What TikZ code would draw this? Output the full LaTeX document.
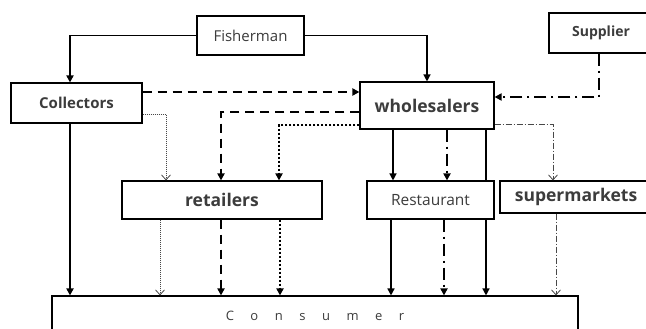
\documentclass[tikz,border=0pt]{standalone}
\usepackage{fontspec}
\setmainfont{Open Sans}
\usetikzlibrary{arrows.meta,backgrounds}
\definecolor{txtgray}{HTML}{3C3C3C}
\definecolor{linegray}{HTML}{484848}

\begin{document}
\begin{tikzpicture}[x=1pt,y=-1pt,
    box/.style={draw,line width=1.1pt,fill=white,text=txtgray,inner sep=0pt},
    fullhead/.style={-{Triangle[length=7pt,width=7pt]}},
    openhead/.style={-{Straight Barb[length=5pt,width=9pt,line width=0.8pt]}},
    plainflow/.style={fullhead,line width=#1},
    plainflow/.default=1.3pt,
    dashflow/.style={fullhead,line width=2pt,dash pattern=on 9pt off 6pt},
    dotflow/.style={fullhead,line width=2pt,dash pattern=on 2pt off 2pt},
    dashdotflow/.style={fullhead,line width=2pt,dash pattern=on 12pt off 5pt on 2pt off 5pt},
    thindot/.style={openhead,line width=0.9pt,linegray,dash pattern=on 1pt off 1pt},
    thindashdot/.style={openhead,line width=0.9pt,linegray,dash pattern=on 6pt off 2pt on 1pt off 2pt}]
    \useasboundingbox (0,0) rectangle (646,329);

    % Boxes
    \node[box,minimum width=107pt,minimum height=39pt,font=\fontsize{15}{17}\selectfont] (fisherman) at (250.5,35.5) {Fisherman};
    \node[box,minimum width=104pt,minimum height=40pt,font=\fontsize{14}{16}\selectfont\bfseries] (supplier) at (601,33) {Supplier};
    \node[box,minimum width=131pt,minimum height=40pt,font=\fontsize{15}{17}\selectfont\bfseries] (collectors) at (76.5,103) {Collectors};
    \node[box,minimum width=134pt,minimum height=47pt,font=\fontsize{17.5}{19}\selectfont\bfseries] (wholesalers) at (427,105.5) {wholesalers};
    \node[box,minimum width=200pt,minimum height=38pt,font=\fontsize{17.5}{19}\selectfont\bfseries] (retailers) at (222,200) {retailers};
    \node[box,minimum width=127pt,minimum height=38pt,font=\fontsize{15.5}{17}\selectfont] (restaurant) at (430.5,200) {Restaurant};
    \node[box,minimum width=152pt,minimum height=32pt,font=\fontsize{17.5}{19}\selectfont\bfseries] (supermarkets) at (576,197) {supermarkets};
    \node[box,minimum width=526pt,minimum height=40pt,font=\fontsize{13}{15}\selectfont] (consumer) at (315,316) {\spaceskip=16.5pt C o n s u m e r};

    % Fisherman and supplier
    \draw[plainflow=1.8pt] (fisherman.west) -| ([xshift=-6.5pt]collectors.north);
    \draw[plainflow] (fisherman.east) -| (wholesalers.north);
    \draw[dashdotflow] ([xshift=-2pt]supplier.south) |- ([yshift=8.5pt]wholesalers.east);

    % Collectors
    \draw[dashflow] ([yshift=11pt]collectors.east) -- ([yshift=11pt]collectors.east -| wholesalers.west);
    \draw[thindot] ([yshift=-11pt]collectors.east) -| ([xshift=-56pt]retailers.north);
    \draw[plainflow=1.8pt] ([xshift=-6.5pt]collectors.south) -- ([xshift=-6.5pt]collectors.south |- consumer.north);

    % Wholesalers
    \draw[dashflow] ([yshift=-6.5pt]wholesalers.west) -| ([xshift=-1pt]retailers.north);
    \draw[dotflow] ([yshift=-19.5pt]wholesalers.west) -| ([xshift=57pt]retailers.north);
    \draw[plainflow] ([xshift=-34pt]wholesalers.south) -- ([xshift=-34pt]wholesalers.south |- restaurant.north);
    \draw[dashdotflow] ([xshift=20pt]wholesalers.south) -- ([xshift=20pt]wholesalers.south |- restaurant.north);
    \begin{scope}[on background layer]
        \draw[plainflow] ([xshift=59pt]wholesalers.south) -- ([xshift=59pt]wholesalers.south |- consumer.north);
    \end{scope}
    \draw[thindashdot] ([yshift=-18.5pt]wholesalers.east) -| ([xshift=-23pt]supermarkets.north);

    % To consumer
    \draw[thindot] ([xshift=-62pt]retailers.south) -- ([xshift=-62pt]retailers.south |- consumer.north);
    \draw[dashflow] ([xshift=-1pt]retailers.south) -- ([xshift=-1pt]retailers.south |- consumer.north);
    \draw[dotflow] ([xshift=58pt]retailers.south) -- ([xshift=58pt]retailers.south |- consumer.north);
    \draw[plainflow=1.5pt] ([xshift=-39.5pt]restaurant.south) -- ([xshift=-39.5pt]restaurant.south |- consumer.north);
    \draw[dashdotflow] ([xshift=13.5pt]restaurant.south) -- ([xshift=13.5pt]restaurant.south |- consumer.north);
    \draw[thindashdot] ([xshift=-20pt]supermarkets.south) -- ([xshift=-20pt]supermarkets.south |- consumer.north);
\end{tikzpicture}
\end{document}
